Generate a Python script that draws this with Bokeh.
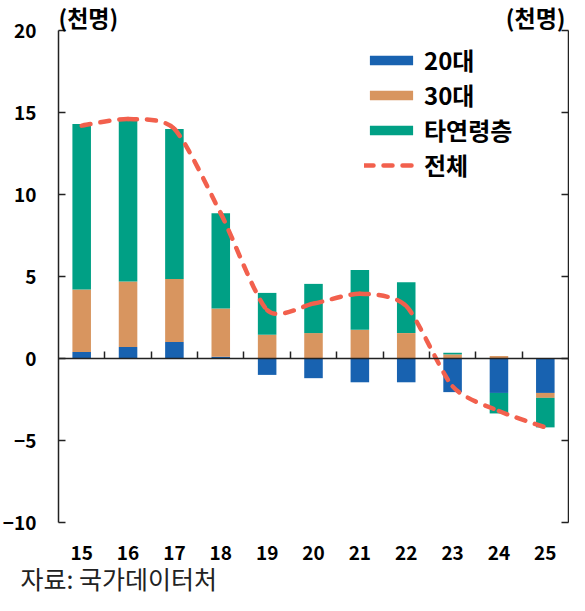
import numpy as np
from bokeh.plotting import figure
from bokeh.models import (Range1d, LinearAxis, FixedTicker, Legend, LegendItem,
                          Label, ColumnDataSource, CustomJSTickFormatter)
from bokeh.embed import file_html
from bokeh.resources import INLINE

# ---- data (thousand persons) ----
years = [15, 16, 17, 18, 19, 20, 21, 22, 23, 24, 25]
year_labels = ["15", "16", "17", "18", "19", "20", "21", "22", "23", "24", "25"]
age20s = [0.4, 0.7, 1.0, 0.1, -1.0, -1.2, -1.45, -1.45, -2.05, -2.1, -2.1]
age30s = [3.8, 4.0, 3.85, 2.95, 1.45, 1.55, 1.75, 1.55, 0.25, 0.15, -0.3]
others = [10.1, 9.9, 9.15, 5.8, 2.55, 3.0, 3.65, 3.1, 0.1, -1.25, -1.8]
total = [14.2, 14.6, 14.0, 8.85, 2.95, 3.35, 3.95, 3.2, -1.7, -3.2, -4.2]
y_ticks = [-10, -5, 0, 5, 10, 15, 20]
y_min, y_max = -10, 20
series_names = ["20대", "30대", "타연령층", "전체"]
unit_label = "(천명)"
source_text = "자료: 국가데이터처"

colors = ["#1862B0", "#D8955F", "#00A085"]
line_color = "#F2604D"
FONT = "Noto Sans CJK KR"

# ---- layout (pixels inside the figure) ----
W, H = 569, 595
x_left_px, x_right_px = 58, 568      # plot-area left / right edges
y_top_px, y_bot_px = 30, 522         # pixel rows of y_max / y_min
x_lo, x_hi = years[0] - 0.5, years[-1] + 0.5
ppx = (x_right_px - x_left_px) / (x_hi - x_lo)
ppy = (y_bot_px - y_top_px) / (y_max - y_min)
xr = Range1d(x_lo - x_left_px / ppx, x_hi + (W - x_right_px) / ppx)
yr = Range1d(y_min - (H - y_bot_px) / ppy, y_max + y_top_px / ppy)

p = figure(width=W, height=H, output_backend="svg", toolbar_location=None,
           x_range=xr, y_range=yr, x_axis_location=None, y_axis_location=None,
           min_border=0, min_border_left=0, min_border_right=0,
           min_border_top=0, min_border_bottom=0, outline_line_color=None)
p.grid.visible = False
p.background_fill_color = "white"

# stacked bars, positives up and negatives down
pos_base = np.zeros(len(years))
neg_base = np.zeros(len(years))
bar_renderers = []
for vals, col in zip([age20s, age30s, others], colors):
    v = np.array(vals, dtype=float)
    bottom = np.where(v >= 0, pos_base, neg_base)
    top = bottom + v
    pos_base = np.where(v >= 0, top, pos_base)
    neg_base = np.where(v < 0, top, neg_base)
    src = ColumnDataSource(dict(x=years, bottom=bottom, top=top))
    r = p.vbar(x="x", bottom="bottom", top="top", width=0.4, source=src,
               fill_color=col, line_color=None)
    bar_renderers.append(r)

# smoothed total line (cubic bezier segments through the data points)
xs = np.array(years, dtype=float)
ys = np.array(total, dtype=float)
n = len(xs)
xp = np.concatenate([[xs[0]], xs, [xs[-1]]])
yp = np.concatenate([[ys[0]], ys, [ys[-1]]])
k = 0.12
cx0 = xs[:-1] + (xp[2:n + 1] - xp[0:n - 1]) * k
cy0 = ys[:-1] + (yp[2:n + 1] - yp[0:n - 1]) * k
cx1 = xs[1:] - (xp[3:n + 2] - xp[1:n]) * k
cy1 = ys[1:] - (yp[3:n + 2] - yp[1:n]) * k
bsrc = ColumnDataSource(dict(x0=xs[:-1], y0=ys[:-1], x1=xs[1:], y1=ys[1:],
                             cx0=cx0, cy0=cy0, cx1=cx1, cy1=cy1))
line_r = p.bezier(x0="x0", y0="y0", x1="x1", y1="y1", cx0="cx0", cy0="cy0",
                  cx1="cx1", cy1="cy1", source=bsrc, line_color=line_color,
                  line_width=4.5, line_dash="9 10", line_cap="round")

empty_fmt = CustomJSTickFormatter(code="return ''")
AX = "#222222"
axis_style = dict(major_tick_in=7, major_tick_out=0, minor_tick_line_color=None,
                  axis_line_width=1.5, major_tick_line_width=1.5,
                  axis_line_color=AX, major_tick_line_color=AX)

# left axis (inside the frame, at the plot-area edge)
la = LinearAxis(fixed_location=x_lo, ticker=FixedTicker(ticks=y_ticks),
                bounds=(y_min, y_max), major_label_text_font=FONT,
                major_label_text_font_style="bold", major_label_text_font_size="19px",
                major_label_text_color="black", major_label_standoff=22, **axis_style)
p.add_layout(la, "left")

# right axis (no labels)
ra = LinearAxis(fixed_location=x_hi, ticker=FixedTicker(ticks=y_ticks),
                bounds=(y_min, y_max), formatter=empty_fmt,
                major_label_text_font_size="1px", major_label_text_color=None,
                major_label_standoff=0, **axis_style)
p.add_layout(ra, "right")

# zero line axis with category separator ticks
za = LinearAxis(fixed_location=0, ticker=FixedTicker(ticks=[y + 0.5 for y in years[:-1]]),
                bounds=(x_lo, x_hi), formatter=empty_fmt,
                major_label_text_font_size="1px", major_label_text_color=None,
                major_label_standoff=0, **axis_style)
p.add_layout(za, "below")

# category labels under the plot area
lsrc = ColumnDataSource(dict(x=years, y=[y_min] * len(years), t=year_labels))
p.text(x="x", y="y", text="t", source=lsrc, y_offset=30, text_align="center",
       text_baseline="middle", text_font={"value": FONT}, text_font_style="bold",
       text_font_size="19px", text_color="black")

# unit labels
p.add_layout(Label(x=x_lo, y=y_max, text=unit_label, text_font=FONT, text_font_style="bold",
                   text_font_size="23px", text_baseline="middle", text_align="left",
                   y_offset=14, x_offset=0, text_color="black"))
p.add_layout(Label(x=x_hi, y=y_max, text=unit_label, text_font=FONT, text_font_style="bold",
                   text_font_size="23px", text_baseline="middle", text_align="right",
                   y_offset=14, x_offset=-3, text_color="black"))
# source note
p.add_layout(Label(x=x_lo, y=y_min, text=source_text, text_font=FONT,
                   text_font_size="25px", text_baseline="middle", text_align="left",
                   x_offset=-38, y_offset=-55, text_color="#222222"))

legend = Legend(items=[LegendItem(label=series_names[0], renderers=[bar_renderers[0]]),
                       LegendItem(label=series_names[1], renderers=[bar_renderers[1]]),
                       LegendItem(label=series_names[2], renderers=[bar_renderers[2]]),
                       LegendItem(label=series_names[3], renderers=[line_r])],
                location=(364, 413), glyph_width=54, glyph_height=12,
                label_standoff=6, label_height=20, spacing=0, padding=0, margin=0,
                border_line_color=None, background_fill_alpha=0,
                label_text_font=FONT, label_text_font_style="bold",
                label_text_font_size="24px", label_text_color="black")
p.add_layout(legend, "center")

open("out.html", "w").write(file_html(p, INLINE))
